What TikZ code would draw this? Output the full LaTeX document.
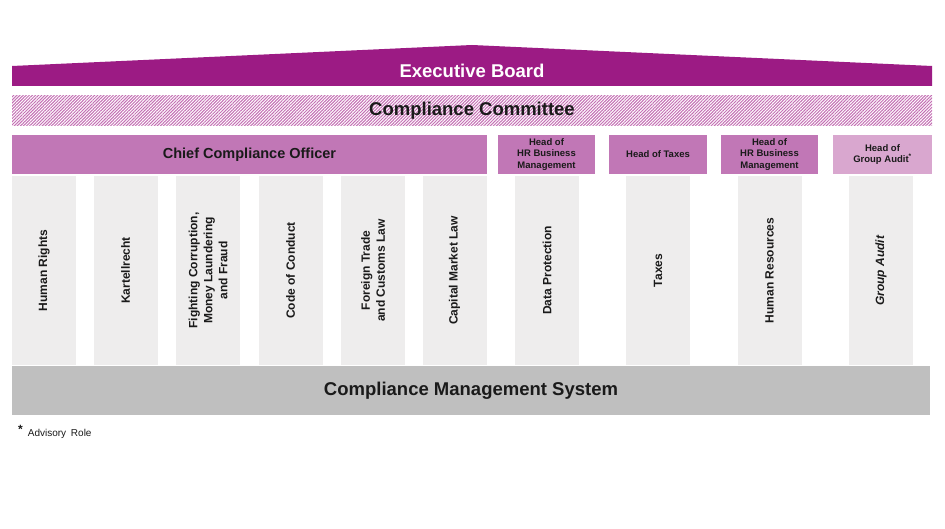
\documentclass[tikz,border=0pt]{standalone}
\usepackage{fontspec}
\setmainfont{Liberation Sans}
\usetikzlibrary{patterns.meta}

\definecolor{boardpurple}{HTML}{9C1B84}
\definecolor{headpink}{HTML}{C177B6}
\definecolor{auditpink}{HTML}{D9A7CF}
\definecolor{hatchpink}{HTML}{C46FB4}
\definecolor{pillargray}{HTML}{EEEDED}
\definecolor{basegray}{HTML}{BFBFBF}
\definecolor{textdark}{HTML}{1A1A1A}

\tikzset{
  headbox/.style={fill=headpink, text=textdark, minimum height=39pt, inner sep=0pt, align=center, font=\fontsize{9.5}{11.5}\selectfont\bfseries},
  pillar/.style={rotate=90, fill=pillargray, text=textdark, minimum width=189pt, minimum height=64pt, inner sep=0pt, align=center, font=\fontsize{12}{15}\selectfont\bfseries},
}

\begin{document}
\begin{tikzpicture}[x=1pt, y=-1pt]
\fill[white] (0,0) rectangle (945,529);
\useasboundingbox (0,0) rectangle (945,529);

% roof
\fill[boardpurple] (12,66) -- (472,45) -- (932,66) -- (932,86) -- (12,86) -- cycle;
\node[text=white, font=\fontsize{18.5}{20}\selectfont\bfseries] (board) at (472,71) {Executive Board};

\node[pattern={Lines[angle=45, distance=2.2pt, line width=1pt]}, pattern color=hatchpink, text=textdark, minimum width=920pt, minimum height=30pt, inner sep=0pt, font=\fontsize{18.5}{20}\selectfont\bfseries] (committee) at (472,111) {Compliance Committee};

% heads
\node[headbox, minimum width=475pt, font=\fontsize{14.5}{16}\selectfont\bfseries] (cco) at (249.5,154.5) {Chief Compliance Officer};
\node[headbox, minimum width=97pt] (headhr) at (546.5,154.5) {Head of\\HR Business\\Management};
\node[headbox, minimum width=98pt] (headtax) at (658,154.5) {Head of Taxes};
\node[headbox, minimum width=97pt] (headhrm) at (769.5,154.5) {Head of\\HR Business\\Management};
\node[headbox, fill=auditpink, minimum width=99pt] (headaudit) at (882.5,154.5) {Head of\\Group Audit\textsuperscript{*}};

% pillars
\foreach \x/\name/\txt in {44/rights/{Human Rights}, 125.5/kartell/{Kartellrecht},
    208/corruption/{Fighting Corruption,\\Money Laundering\\and Fraud}, 290.5/conduct/{Code of Conduct},
    373/trade/{Foreign Trade\\and Customs Law}, 454.5/capital/{Capital Market Law},
    547/data/{Data Protection}, 658/taxes/{Taxes}, 769.5/resources/{Human Resources},
    881/audit/{\textit{Group Audit}}}
  \node[pillar] (\name) at (\x,270.5) {\txt};

\node[fill=basegray, text=textdark, minimum width=918pt, minimum height=49pt, inner sep=0pt, font=\fontsize{18.5}{20}\selectfont\bfseries] (cms) at (471,390.5) {Compliance Management System};

\node[anchor=west, text=textdark, inner sep=0pt, font=\fontsize{10}{12}\selectfont] (note) at (18,432) {\raisebox{3pt}{\fontsize{12}{12}\selectfont\bfseries *}\hspace{5pt}Advisory\hspace{2pt} Role};

\end{tikzpicture}
\end{document}
